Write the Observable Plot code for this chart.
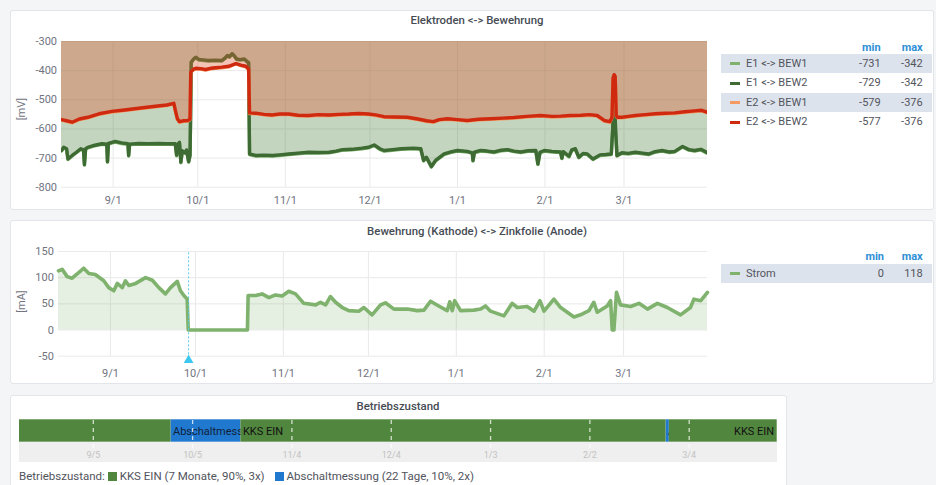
<!DOCTYPE html>
<html><head><meta charset="utf-8">
<script src="https://cdn.jsdelivr.net/npm/d3@7"></script>
<script src="https://cdn.jsdelivr.net/npm/@observablehq/plot@0.6"></script>
<style>
html,body{margin:0;padding:0}
body{background:#f4f5f7;font-family:Roboto,"Noto Sans",sans-serif;width:936px;height:485px;overflow:hidden;position:relative}
.panel{position:absolute;background:#fff;border:1px solid #e2e5e9;border-radius:3px;box-sizing:border-box}
.title{position:absolute;font-size:11.4px;font-weight:500;color:#464c54;line-height:14px;transform:translateX(-50%);white-space:nowrap}
.lg{position:absolute;font-size:11px;color:#52545c;line-height:14px;white-space:nowrap}
.hd{position:absolute;font-size:11px;font-weight:700;color:#2f8fd6;line-height:14px}
.row{position:absolute;height:19.4px}
.sw{position:absolute;width:10px;height:3px}
.band{position:absolute;background:#efefef}
.foot{position:absolute;font-size:11.5px;color:#52545c;line-height:14px;white-space:nowrap}
.sq{display:inline-block;width:9px;height:9px;vertical-align:-1px;margin-right:3px}
</style>
</head>
<body>
<script>
// ---------- data ----------
const xRange = ["2020-08-13T17", "2021-03-30T14"];
const monthTicks = ["2020-09-01","2020-10-01","2020-11-01","2020-12-01","2021-01-01","2021-02-01","2021-03-01"];
const stateTicks = ["2020-09-05","2020-10-05","2020-11-04","2020-12-04","2021-01-03","2021-02-02","2021-03-04"];
const yTicksMV = [-800,-700,-600,-500,-400,-300];
const yTicksMA = [-50,0,50,100,150];
const seriesNames = ["E1 <-> BEW1","E1 <-> BEW2","E2 <-> BEW1","E2 <-> BEW2"];
const seriesMin = [-731,-729,-579,-577];
const seriesMax = [-342,-342,-376,-376];
const stromMin = 0, stromMax = 118;
const annotation = "2020-09-28T14";

const e1bew1 = [["2020-08-13T17",-676],["2020-08-14T12",-665],["2020-08-15T12",-670],["2020-08-16T00",-705],["2020-08-17T12",-693],["2020-08-19T00",-681],["2020-08-20T12",-670],["2020-08-21T12",-674],["2020-08-21T20",-724],["2020-08-22T06",-670],["2020-08-23T00",-665],["2020-08-25T12",-658],["2020-08-28T00",-653],["2020-08-29T18",-654],["2020-08-30T00",-714],["2020-08-30T08",-652],["2020-08-31T00",-650],["2020-09-01T18",-645],["2020-09-04T00",-650],["2020-09-06T06",-653],["2020-09-06T12",-693],["2020-09-06T20",-654],["2020-09-10T00",-652],["2020-09-13T12",-653],["2020-09-17T00",-652],["2020-09-19T12",-653],["2020-09-23T00",-653],["2020-09-23T12",-692],["2020-09-24T00",-654],["2020-09-24T12",-648],["2020-09-25T00",-716],["2020-09-25T12",-677],["2020-09-26T12",-684],["2020-09-27T00",-674],["2020-09-27T18",-714],["2020-09-28T06",-692],["2020-09-28T10",-579],["2020-09-28T16",-373],["2020-09-29T12",-362],["2020-09-30T06",-356],["2020-10-01T12",-364],["2020-10-03T00",-365],["2020-10-04T18",-367],["2020-10-07T00",-366],["2020-10-09T12",-367],["2020-10-10T12",-360],["2020-10-11T12",-350],["2020-10-12T06",-354],["2020-10-13T04",-342],["2020-10-14T00",-352],["2020-10-14T18",-362],["2020-10-16T00",-364],["2020-10-17T12",-362],["2020-10-18T12",-371],["2020-10-19T00",-374],["2020-10-19T08",-688],["2020-10-21T12",-693],["2020-10-24T12",-692],["2020-10-27T12",-693],["2020-10-30T00",-691],["2020-11-02T06",-688],["2020-11-05T12",-685],["2020-11-09T06",-682],["2020-11-12T18",-683],["2020-11-16T12",-682],["2020-11-19T00",-678],["2020-11-21T06",-673],["2020-11-24T12",-672],["2020-11-28T06",-668],["2020-11-30T12",-665],["2020-12-02T12",-657],["2020-12-04T12",-670],["2020-12-06T00",-676],["2020-12-09T00",-673],["2020-12-12T00",-670],["2020-12-16T12",-668],["2020-12-19T00",-670],["2020-12-20T00",-710],["2020-12-21T00",-699],["2020-12-22T18",-731],["2020-12-24T06",-710],["2020-12-27T06",-688],["2020-12-30T00",-680],["2021-01-01T00",-676],["2021-01-04T12",-679],["2021-01-06T06",-684],["2021-01-06T12",-710],["2021-01-07T00",-682],["2021-01-09T06",-676],["2021-01-11T12",-678],["2021-01-14T00",-681],["2021-01-16T12",-675],["2021-01-18T18",-673],["2021-01-21T00",-678],["2021-01-23T12",-681],["2021-01-26T00",-677],["2021-01-28T18",-676],["2021-01-29T12",-722],["2021-01-30T06",-682],["2021-01-31T18",-676],["2021-02-03T12",-679],["2021-02-06T12",-681],["2021-02-07T00",-702],["2021-02-07T12",-680],["2021-02-09T12",-696],["2021-02-10T12",-674],["2021-02-11T18",-670],["2021-02-13T00",-699],["2021-02-14T12",-686],["2021-02-16T00",-688],["2021-02-18T00",-705],["2021-02-20T12",-691],["2021-02-22T12",-690],["2021-02-24T12",-688],["2021-02-25T00",-602],["2021-02-25T12",-432],["2021-02-26T00",-602],["2021-02-26T12",-693],["2021-02-28T06",-684],["2021-03-02T12",-686],["2021-03-05T00",-682],["2021-03-07T12",-685],["2021-03-09T18",-688],["2021-03-12T00",-680],["2021-03-14T12",-676],["2021-03-17T00",-681],["2021-03-19T00",-679],["2021-03-21T18",-662],["2021-03-24T00",-673],["2021-03-26T00",-676],["2021-03-28T06",-672],["2021-03-30T14",-684]];

const e1bew2 = [["2020-08-13T17",-674],["2020-08-14T12",-663],["2020-08-15T12",-668],["2020-08-16T00",-703],["2020-08-17T12",-691],["2020-08-19T00",-680],["2020-08-20T12",-668],["2020-08-21T12",-672],["2020-08-21T20",-722],["2020-08-22T06",-668],["2020-08-23T00",-663],["2020-08-25T12",-656],["2020-08-28T00",-651],["2020-08-29T18",-652],["2020-08-30T00",-712],["2020-08-30T08",-650],["2020-08-31T00",-648],["2020-09-01T18",-643],["2020-09-04T00",-648],["2020-09-06T06",-651],["2020-09-06T12",-691],["2020-09-06T20",-652],["2020-09-10T00",-650],["2020-09-13T12",-651],["2020-09-17T00",-650],["2020-09-19T12",-651],["2020-09-23T00",-651],["2020-09-23T12",-690],["2020-09-24T00",-652],["2020-09-24T12",-646],["2020-09-25T00",-714],["2020-09-25T12",-675],["2020-09-26T12",-682],["2020-09-27T00",-672],["2020-09-27T18",-712],["2020-09-28T06",-690],["2020-09-28T10",-577],["2020-09-28T16",-371],["2020-09-29T12",-360],["2020-09-30T06",-354],["2020-10-01T12",-362],["2020-10-03T00",-363],["2020-10-04T18",-365],["2020-10-07T00",-364],["2020-10-09T12",-365],["2020-10-10T12",-358],["2020-10-11T12",-348],["2020-10-12T06",-352],["2020-10-13T04",-342],["2020-10-14T00",-350],["2020-10-14T18",-360],["2020-10-16T00",-362],["2020-10-17T12",-360],["2020-10-18T12",-369],["2020-10-19T00",-372],["2020-10-19T08",-686],["2020-10-21T12",-691],["2020-10-24T12",-690],["2020-10-27T12",-691],["2020-10-30T00",-689],["2020-11-02T06",-686],["2020-11-05T12",-683],["2020-11-09T06",-680],["2020-11-12T18",-681],["2020-11-16T12",-680],["2020-11-19T00",-676],["2020-11-21T06",-671],["2020-11-24T12",-670],["2020-11-28T06",-666],["2020-11-30T12",-663],["2020-12-02T12",-655],["2020-12-04T12",-668],["2020-12-06T00",-674],["2020-12-09T00",-671],["2020-12-12T00",-668],["2020-12-16T12",-666],["2020-12-19T00",-668],["2020-12-20T00",-708],["2020-12-21T00",-697],["2020-12-22T18",-729],["2020-12-24T06",-708],["2020-12-27T06",-686],["2020-12-30T00",-678],["2021-01-01T00",-674],["2021-01-04T12",-677],["2021-01-06T06",-682],["2021-01-06T12",-708],["2021-01-07T00",-680],["2021-01-09T06",-674],["2021-01-11T12",-676],["2021-01-14T00",-679],["2021-01-16T12",-673],["2021-01-18T18",-671],["2021-01-21T00",-676],["2021-01-23T12",-679],["2021-01-26T00",-675],["2021-01-28T18",-674],["2021-01-29T12",-720],["2021-01-30T06",-680],["2021-01-31T18",-674],["2021-02-03T12",-677],["2021-02-06T12",-679],["2021-02-07T00",-700],["2021-02-07T12",-678],["2021-02-09T12",-694],["2021-02-10T12",-672],["2021-02-11T18",-668],["2021-02-13T00",-697],["2021-02-14T12",-684],["2021-02-16T00",-686],["2021-02-18T00",-703],["2021-02-20T12",-689],["2021-02-22T12",-688],["2021-02-24T12",-686],["2021-02-25T00",-600],["2021-02-25T12",-430],["2021-02-26T00",-600],["2021-02-26T12",-691],["2021-02-28T06",-682],["2021-03-02T12",-684],["2021-03-05T00",-680],["2021-03-07T12",-683],["2021-03-09T18",-686],["2021-03-12T00",-678],["2021-03-14T12",-674],["2021-03-17T00",-679],["2021-03-19T00",-677],["2021-03-21T18",-660],["2021-03-24T00",-671],["2021-03-26T00",-674],["2021-03-28T06",-670],["2021-03-30T14",-682]];

const e2bew1 = [["2020-08-13T17",-570],["2020-08-15T12",-574],["2020-08-17T12",-579],["2020-08-20T00",-568],["2020-08-23T00",-562],["2020-08-27T00",-550],["2020-08-31T12",-542],["2020-09-05T00",-537],["2020-09-10T00",-531],["2020-09-16T00",-524],["2020-09-20T00",-520],["2020-09-22T12",-514],["2020-09-23T06",-547],["2020-09-23T18",-567],["2020-09-24T12",-577],["2020-09-26T00",-574],["2020-09-27T12",-573],["2020-09-28T06",-568],["2020-09-28T12",-407],["2020-09-29T12",-397],["2020-09-30T06",-394],["2020-10-02T00",-395],["2020-10-03T18",-398],["2020-10-05T12",-394],["2020-10-07T06",-392],["2020-10-09T12",-390],["2020-10-12T00",-387],["2020-10-14T12",-376],["2020-10-16T06",-383],["2020-10-18T00",-387],["2020-10-19T00",-396],["2020-10-19T08",-547],["2020-10-21T12",-548],["2020-10-24T12",-552],["2020-10-27T12",-554],["2020-10-30T00",-551],["2020-11-02T06",-551],["2020-11-05T12",-555],["2020-11-09T06",-556],["2020-11-12T18",-553],["2020-11-16T12",-554],["2020-11-20T00",-552],["2020-11-23T12",-551],["2020-11-27T00",-549],["2020-11-30T12",-551],["2020-12-03T00",-554],["2020-12-06T00",-560],["2020-12-10T00",-561],["2020-12-14T06",-562],["2020-12-18T00",-568],["2020-12-21T00",-574],["2020-12-23T12",-577],["2020-12-25T12",-570],["2020-12-28T12",-567],["2021-01-01T00",-570],["2021-01-04T12",-573],["2021-01-08T12",-569],["2021-01-12T18",-567],["2021-01-17T00",-565],["2021-01-21T00",-563],["2021-01-25T12",-559],["2021-01-30T12",-556],["2021-02-03T12",-559],["2021-02-06T12",-558],["2021-02-10T00",-556],["2021-02-13T18",-555],["2021-02-16T18",-553],["2021-02-19T12",-556],["2021-02-22T00",-573],["2021-02-24T00",-577],["2021-02-24T18",-562],["2021-02-25T03",-427],["2021-02-25T12",-416],["2021-02-25T21",-422],["2021-02-26T06",-557],["2021-02-26T18",-562],["2021-02-28T06",-562],["2021-03-02T12",-559],["2021-03-05T00",-556],["2021-03-08T12",-553],["2021-03-12T00",-550],["2021-03-15T12",-548],["2021-03-19T00",-547],["2021-03-22T12",-543],["2021-03-26T00",-540],["2021-03-28T12",-538],["2021-03-30T14",-545]];

const e2bew2 = [["2020-08-13T17",-568],["2020-08-15T12",-572],["2020-08-17T12",-577],["2020-08-20T00",-566],["2020-08-23T00",-560],["2020-08-27T00",-548],["2020-08-31T12",-540],["2020-09-05T00",-535],["2020-09-10T00",-529],["2020-09-16T00",-522],["2020-09-20T00",-518],["2020-09-22T12",-512],["2020-09-23T06",-545],["2020-09-23T18",-565],["2020-09-24T12",-575],["2020-09-26T00",-572],["2020-09-27T12",-571],["2020-09-28T06",-566],["2020-09-28T12",-405],["2020-09-29T12",-395],["2020-09-30T06",-392],["2020-10-02T00",-393],["2020-10-03T18",-396],["2020-10-05T12",-392],["2020-10-07T06",-390],["2020-10-09T12",-388],["2020-10-12T00",-385],["2020-10-14T12",-376],["2020-10-16T06",-381],["2020-10-18T00",-385],["2020-10-19T00",-394],["2020-10-19T08",-545],["2020-10-21T12",-546],["2020-10-24T12",-550],["2020-10-27T12",-552],["2020-10-30T00",-549],["2020-11-02T06",-549],["2020-11-05T12",-553],["2020-11-09T06",-554],["2020-11-12T18",-551],["2020-11-16T12",-552],["2020-11-20T00",-550],["2020-11-23T12",-549],["2020-11-27T00",-547],["2020-11-30T12",-549],["2020-12-03T00",-552],["2020-12-06T00",-558],["2020-12-10T00",-559],["2020-12-14T06",-560],["2020-12-18T00",-566],["2020-12-21T00",-572],["2020-12-23T12",-575],["2020-12-25T12",-568],["2020-12-28T12",-565],["2021-01-01T00",-568],["2021-01-04T12",-571],["2021-01-08T12",-567],["2021-01-12T18",-565],["2021-01-17T00",-563],["2021-01-21T00",-561],["2021-01-25T12",-557],["2021-01-30T12",-554],["2021-02-03T12",-557],["2021-02-06T12",-556],["2021-02-10T00",-554],["2021-02-13T18",-553],["2021-02-16T18",-551],["2021-02-19T12",-554],["2021-02-22T00",-571],["2021-02-24T00",-575],["2021-02-24T18",-560],["2021-02-25T03",-425],["2021-02-25T12",-414],["2021-02-25T21",-420],["2021-02-26T06",-555],["2021-02-26T18",-560],["2021-02-28T06",-560],["2021-03-02T12",-557],["2021-03-05T00",-554],["2021-03-08T12",-551],["2021-03-12T00",-548],["2021-03-15T12",-546],["2021-03-19T00",-545],["2021-03-22T12",-541],["2021-03-26T00",-538],["2021-03-28T12",-536],["2021-03-30T14",-543]];

const strom = [["2020-08-13T17",113],["2020-08-15T00",116],["2020-08-16T18",102],["2020-08-18T12",99],["2020-08-20T22",110],["2020-08-22T14",118],["2020-08-24T10",108],["2020-08-26T16",106],["2020-08-29T16",94],["2020-08-31T10",81],["2020-09-02T05",75],["2020-09-03T10",89],["2020-09-05T05",81],["2020-09-06T07",94],["2020-09-07T12",85],["2020-09-09T22",89],["2020-09-13T10",100],["2020-09-15T19",95],["2020-09-18T02",81],["2020-09-20T10",69],["2020-09-22T05",81],["2020-09-24T14",93],["2020-09-25T17",75],["2020-09-26T22",66],["2020-09-28T02",59],["2020-09-28T11",0],["2020-10-19T08",0],["2020-10-19T14",66],["2020-10-22T05",66],["2020-10-24T12",69],["2020-10-26T22",62],["2020-10-29T05",67],["2020-10-31T14",65],["2020-11-02T22",74],["2020-11-05T07",69],["2020-11-08T05",51],["2020-11-12T10",48],["2020-11-14T02",53],["2020-11-15T22",48],["2020-11-17T14",64],["2020-11-19T10",53],["2020-11-21T19",43],["2020-11-24T02",37],["2020-11-27T14",36],["2020-11-29T10",43],["2020-12-02T07",29],["2020-12-05T07",48],["2020-12-07T00",52],["2020-12-10T00",40],["2020-12-14T17",40],["2020-12-18T05",37],["2020-12-20T14",38],["2020-12-22T22",55],["2020-12-25T19",46],["2020-12-28T19",37],["2020-12-29T17",54],["2020-12-30T14",37],["2020-12-31T10",56],["2021-01-02T12",37],["2021-01-07T05",38],["2021-01-09T14",40],["2021-01-11T07",46],["2021-01-13T02",36],["2021-01-17T19",27],["2021-01-20T17",51],["2021-01-22T12",43],["2021-01-26T00",45],["2021-01-28T10",36],["2021-01-30T12",56],["2021-01-31T22",36],["2021-02-04T10",59],["2021-02-06T19",43],["2021-02-11T12",25],["2021-02-13T19",29],["2021-02-16T19",37],["2021-02-18T12",53],["2021-02-19T17",34],["2021-02-23T05",46],["2021-02-24T10",56],["2021-02-25T00",0],["2021-02-25T14",0],["2021-02-26T12",72],["2021-02-27T22",48],["2021-03-03T12",45],["2021-03-06T10",51],["2021-03-09T10",40],["2021-03-12T22",51],["2021-03-16T10",43],["2021-03-21T02",29],["2021-03-24T14",43],["2021-03-25T19",59],["2021-03-28T05",56],["2021-03-30T14",72]];

const states = [["KKS EIN","2020-08-13T17","2020-09-28T11"],["Abschaltmessung","2020-09-28T11","2020-10-19T14"],["KKS EIN","2020-10-19T14","2021-02-25T00"],["Abschaltmessung","2021-02-25T00","2021-02-26T00"],["KKS EIN","2021-02-26T00","2021-03-30T14"]];
const stateSummary = [["KKS EIN","7 Monate","90%","3x"],["Abschaltmessung","22 Tage","10%","2x"]];

// ---------- helpers ----------
const P = d3.utcParse("%Y-%m-%dT%H");
const D = d3.utcParse("%Y-%m-%d");
const xDomain = xRange.map(P);
const rows = pairs => pairs.map(([t, v]) => ({date: P(t), value: v}));
const colors = ["#7eb26d", "#3e6b33", "#f59a62", "#cf2a10"];
const stromColor = "#7eb26d";
const stateColors = {"KKS EIN": "#51863e", "Abschaltmessung": "#2079cf"};
const font = {fontFamily: "Roboto, 'Noto Sans', sans-serif", fontSize: "11px", color: "#717380", background: "transparent", overflow: "visible"};
const gridStyle = {stroke: "#e9e9e9", strokeOpacity: 1};
const plain = d => String(d);

function el(tag, cls, style, text) {
  const e = document.createElement(tag);
  if (cls) e.className = cls;
  Object.assign(e.style, style || {});
  if (text != null) e.textContent = text;
  document.body.appendChild(e);
  return e;
}
function place(node, left, top) {
  node.style.position = "absolute"; node.style.left = left + "px"; node.style.top = top + "px";
  document.body.appendChild(node);
}

// ---------- panels ----------
el("div", "panel", {left: "9.5px", top: "9.5px", width: "924px", height: "200px"});
el("div", "panel", {left: "9.5px", top: "219.5px", width: "924px", height: "164px"});
el("div", "panel", {left: "9.5px", top: "394.5px", width: "777.5px", height: "100px"});
el("div", "title", {left: "477px", top: "13px"}, "Elektroden <-> Bewehrung");
el("div", "title", {left: "477px", top: "224px"}, "Bewehrung (Kathode) <-> Zinkfolie (Anode)");
el("div", "title", {left: "398px", top: "398.5px"}, "Betriebszustand");

// ---------- chart 1 ----------
const data1 = [e1bew1, e1bew2, e2bew1, e2bew2].map(rows);
const chart1 = Plot.plot({
  width: 715, height: 178, marginLeft: 61, marginRight: 8, marginTop: 10, marginBottom: 22.3,
  style: font,
  x: {type: "utc", domain: xDomain},
  y: {domain: [-800, -300]},
  marks: [
    Plot.gridY(yTicksMV, gridStyle),
    Plot.gridX(monthTicks.map(D), gridStyle),
    ...data1.flatMap((d, i) => [
      Plot.areaY(d, {x: "date", y1: "value", y2: 0, fill: colors[i], fillOpacity: 0.2, clip: true}),
      Plot.lineY(d, {x: "date", y: "value", stroke: colors[i], strokeWidth: 3.4, clip: true})
    ]),
    Plot.axisX(monthTicks.map(D), {tickFormat: "%-m/%-d", tickSize: 0, tickPadding: 8.5, label: null}),
    Plot.axisY(yTicksMV, {tickFormat: plain, tickSize: 0, tickPadding: 4.5, label: null}),
    Plot.text(["[mV]"], {frameAnchor: "left", rotate: -90, dx: -40, dy: 6, fontSize: 11, fill: "#717380"})
  ]
});
place(chart1, 0, 31);

// ---------- chart 2 ----------
const data2 = rows(strom);
const annDate = P(annotation);
const chart2 = Plot.plot({
  width: 715, height: 139.7, marginLeft: 58, marginRight: 8, marginTop: 10, marginBottom: 25,
  style: font,
  x: {type: "utc", domain: xDomain},
  y: {domain: [-50, 150]},
  marks: [
    Plot.gridY(yTicksMA, gridStyle),
    Plot.gridX(monthTicks.map(D), gridStyle),
    Plot.areaY(data2, {x: "date", y: "value", fill: stromColor, fillOpacity: 0.2}),
    Plot.lineY(data2, {x: "date", y: "value", stroke: stromColor, strokeWidth: 3.6}),
    Plot.ruleX([annDate], {y1: -55, y2: 150, stroke: "#58cdf0", strokeWidth: 1, strokeDasharray: "2,2"}),
    Plot.dot([annDate], {x: d => d, y: -57.5, symbol: "triangle", r: 3.6, fill: "#3fc8ef", stroke: null}),
    Plot.axisX(monthTicks.map(D), {tickFormat: "%-m/%-d", tickSize: 0, tickPadding: 13.3, label: null}),
    Plot.axisY(yTicksMA, {tickFormat: plain, tickSize: 0, tickPadding: 4.7, label: null}),
    Plot.text(["[mA]"], {frameAnchor: "left", rotate: -90, dx: -37, dy: 9, fontSize: 11, fill: "#717380"})
  ]
});
place(chart2, 0, 241);

// ---------- legends ----------
function legendTable(top, headerTop, minRight, names, mins, maxs, cols) {
  el("div", "hd", {left: (minRight - 40) + "px", width: "40px", textAlign: "right", top: headerTop + "px"}, "min");
  el("div", "hd", {left: "882.7px", width: "40px", textAlign: "right", top: headerTop + "px"}, "max");
  names.forEach((n, i) => {
    const t = top + i * 19.4;
    if (i % 2 === 0) el("div", "row", {left: "721px", width: "211px", top: t + "px", background: "#dde3ec"});
    el("div", "sw", {left: "730px", top: (t + 8.3) + "px", background: cols[i]});
    el("div", "lg", {left: "746px", top: (t + 2.7) + "px"}, n);
    el("div", "lg", {left: (minRight - 60) + "px", width: "60px", textAlign: "right", top: (t + 2.7) + "px"}, String(mins[i]));
    el("div", "lg", {left: "862.7px", width: "60px", textAlign: "right", top: (t + 2.7) + "px"}, String(maxs[i]));
  });
}
legendTable(54, 40.5, 880.7, seriesNames, seriesMin, seriesMax, colors);
legendTable(264, 249.5, 884, ["Strom"], [stromMin], [stromMax], [stromColor]);

// ---------- state timeline ----------
el("div", "band", {left: "19px", top: "441.7px", width: "757.7px", height: "20.6px"});
const seg = states.map(([s, a, b]) => ({state: s, start: P(a), end: P(b)}));
const blue = seg.filter(d => d.state === "Abschaltmessung");
const green = seg.filter(d => d.state === "KKS EIN");
const chart3 = Plot.plot({
  width: 786, height: 50, marginLeft: 19, marginRight: 9.3, marginTop: 7.3, marginBottom: 20.3,
  style: font,
  x: {type: "utc", domain: xDomain},
  y: {domain: [0, 1], axis: null},
  marks: [
    Plot.rect(blue, {x1: "start", x2: "end", y1: 0, y2: 1, fill: stateColors["Abschaltmessung"]}),
    Plot.text(blue, {x: "start", y: 0.5, text: "state", textAnchor: "start", dx: 2, fontSize: 11, fill: "#10213a"}),
    Plot.rect(green, {x1: "start", x2: "end", y1: 0, y2: 1, fill: stateColors["KKS EIN"]}),
    Plot.text(green.slice(1, 2), {x: "start", y: 0.5, text: "state", textAnchor: "start", dx: 2, fontSize: 11, fill: "#111"}),
    Plot.text(green.slice(2), {x: "end", y: 0.5, text: "state", textAnchor: "end", dx: -3, fontSize: 11, fill: "#111"}),
    Plot.ruleX(stateTicks.map(D), {y1: -0.28, y2: 1, stroke: "#ffffff", strokeOpacity: 0.75, strokeWidth: 1.3, strokeDasharray: "4,4"}),
    Plot.axisX(stateTicks.map(D), {tickFormat: "%-m/%-d", tickSize: 0, tickPadding: 9, fontSize: 9, color: "#c2c2c2", label: null})
  ]
});
// clip each state label to its own segment (local coords of the text element)
(function clipLabels() {
  const ns = "http://www.w3.org/2000/svg";
  const xs = chart3.scale("x");
  const defs = document.createElementNS(ns, "defs");
  chart3.insertBefore(defs, chart3.firstChild);
  const labels = [...chart3.querySelectorAll("text")].filter(t => t.textContent === "Abschaltmessung");
  blue.forEach((b, i) => {
    const cp = document.createElementNS(ns, "clipPath");
    cp.setAttribute("id", "seg-clip-" + i);
    const r = document.createElementNS(ns, "rect");
    const w = xs.apply(b.end) - xs.apply(b.start) - 2;
    const hasT = labels[i] && labels[i].getAttribute("transform");
    const ox = hasT ? 0 : (+labels[i].getAttribute("x") || 0);
    const oy = hasT ? 0 : (+labels[i].getAttribute("y") || 0);
    r.setAttribute("x", ox - 1); r.setAttribute("y", oy - 20);
    r.setAttribute("width", Math.max(0, w + 1)); r.setAttribute("height", 40);
    cp.appendChild(r); defs.appendChild(cp);
    if (labels[i]) labels[i].setAttribute("clip-path", `url(#seg-clip-${i})`);
  });
})();
place(chart3, 0, 412);

// footer legend
const foot = el("div", "foot", {left: "19px", top: "469px"});
foot.append("Betriebszustand: ");
stateSummary.forEach(([s, dur, pct, n], i) => {
  const sq = document.createElement("span"); sq.className = "sq"; sq.style.background = stateColors[s];
  if (i > 0) { const gap = document.createElement("span"); gap.style.display = "inline-block"; gap.style.width = "10px"; foot.append(gap); }
  foot.append(sq);
  foot.append(`${s} (${dur}, ${pct}, ${n})`);
});
</script>
</body></html>
